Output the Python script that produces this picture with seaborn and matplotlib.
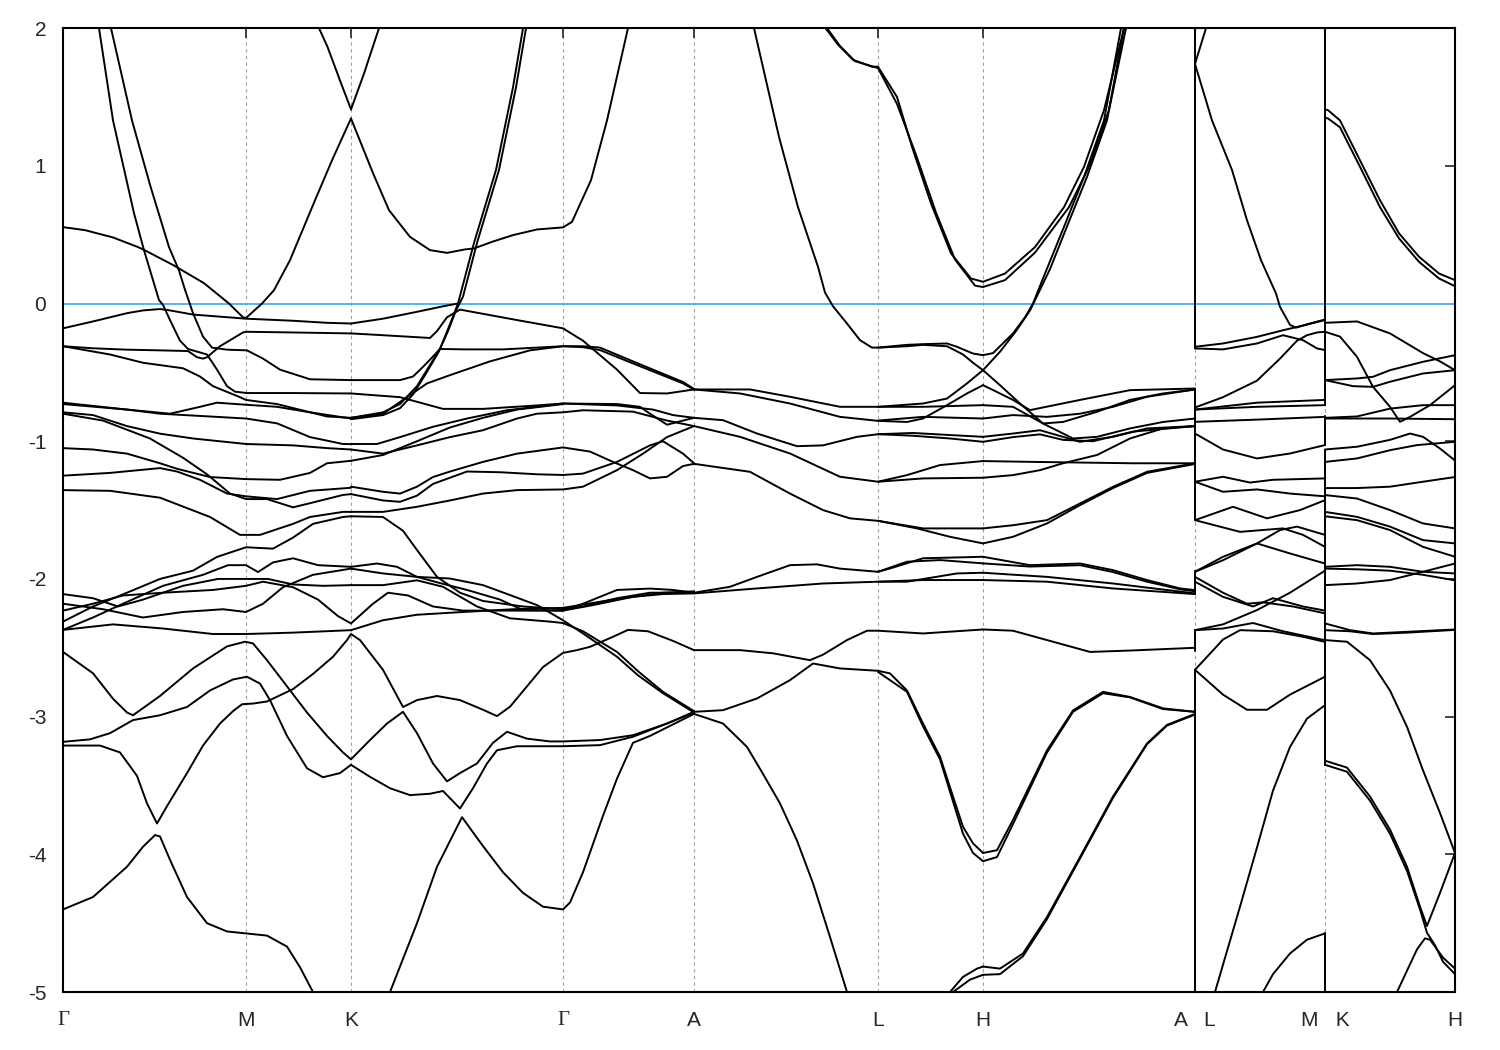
import pandas as pd
import seaborn as sns
import matplotlib.pyplot as plt

# high-symmetry points along the k-path
kpoints = [0.0, 1.83, 2.88, 5.00, 6.31, 8.15, 9.20, 11.32, 12.62, 13.92]
klabels = ["Γ", "M", "K", "Γ", "A", "L", "H", "A   L", "M   K", "H"]

# bands, (k, E) pairs, one list per path piece
gamma_m_k = [
    [(0.36, 2.0), (0.50, 1.33), (0.71, 0.656), (0.81, 0.387), (0.96, 0.025), (1.0, -0.01), (1.07, -0.12), (1.17, -0.27),
     (1.25, -0.33), (1.44, -0.37), (1.54, -0.48), (1.64, -0.60), (1.72, -0.64), (1.84, -0.65), (2.30, -0.65), (2.88, -0.653)],
    [(0.48, 2.0), (0.69, 1.33), (0.875, 0.85), (1.06, 0.41), (1.16, 0.24), (1.22, 0.10), (1.30, -0.07), (1.40, -0.24),
     (1.49, -0.32), (1.64, -0.335), (1.84, -0.34), (2.0, -0.40), (2.17, -0.48), (2.47, -0.55), (2.88, -0.556)],
    [(0, 0.555), (0.22, 0.533), (0.50, 0.48), (0.75, 0.41), (0.81, 0.39), (1.10, 0.28), (1.41, 0.148), (1.66, 0.0),
     (1.80, -0.10), (1.83, -0.105), (1.99, 0.0), (2.11, 0.097), (2.27, 0.315), (2.52, 0.75), (2.69, 1.04), (2.88, 1.344)],
    [(2.56, 2.0), (2.645, 1.864), (2.77, 1.62), (2.88, 1.41)],
    [(0, -0.18), (0.30, -0.13), (0.64, -0.07), (0.80, -0.05), (0.97, -0.04), (1.07, -0.05), (1.30, -0.08), (1.83, -0.11),
     (2.30, -0.125), (2.64, -0.14), (2.88, -0.145)],
    [(0, -0.31), (0.30, -0.325), (0.64, -0.335), (0.97, -0.34), (1.25, -0.345), (1.34, -0.39), (1.40, -0.40), (1.44, -0.39),
     (1.57, -0.31), (1.80, -0.21), (1.83, -0.205), (2.3, -0.21), (2.88, -0.217)],
    [(0, -0.31), (0.47, -0.37), (0.80, -0.43), (1.20, -0.47), (1.37, -0.53), (1.50, -0.60), (1.77, -0.68), (1.83, -0.70),
     (2.14, -0.73), (2.64, -0.82), (2.88, -0.83)],
    [(0, -0.72), (0.64, -0.77), (1.07, -0.80), (1.37, -0.75), (1.54, -0.72), (1.83, -0.735), (2.14, -0.75), (2.47, -0.79), (2.88, -0.835)],
    [(0, -0.73), (0.64, -0.77), (0.97, -0.80), (1.83, -0.835), (2.14, -0.87), (2.47, -0.97), (2.80, -1.02), (2.88, -1.021)],
    [(0, -0.79), (0.30, -0.81), (0.64, -0.89), (0.97, -0.945), (1.30, -0.98), (1.83, -1.02), (2.30, -1.03), (2.64, -1.05), (2.88, -1.06)],
    [(0, -0.80), (0.40, -0.85), (0.87, -0.98), (1.20, -1.12), (1.44, -1.24), (1.67, -1.38), (1.83, -1.42), (2.04, -1.42),
     (2.30, -1.48), (2.47, -1.45), (2.80, -1.39), (2.88, -1.384)],
    [(0, -1.05), (0.30, -1.06), (0.64, -1.09), (0.97, -1.16), (1.14, -1.20), (1.47, -1.26), (1.83, -1.275), (2.17, -1.28),
     (2.47, -1.23), (2.64, -1.16), (2.88, -1.142)],
    [(0, -1.25), (0.47, -1.23), (0.97, -1.195), (1.14, -1.22), (1.37, -1.28), (1.64, -1.38), (1.83, -1.40), (2.14, -1.42),
     (2.47, -1.36), (2.88, -1.338)],
    [(0, -1.355), (0.47, -1.36), (0.97, -1.41), (1.47, -1.55), (1.77, -1.68), (1.97, -1.68), (2.30, -1.60), (2.47, -1.55),
     (2.80, -1.513), (2.88, -1.513)],
    [(0, -2.31), (0.30, -2.20), (0.64, -2.10), (0.97, -2.0), (1.30, -1.94), (1.54, -1.84), (1.83, -1.77), (2.10, -1.78),
     (2.30, -1.70), (2.50, -1.60), (2.80, -1.55), (2.88, -1.545)],
    [(0, -2.37), (0.30, -2.28), (0.60, -2.18), (1.0, -2.05), (1.4, -1.97), (1.65, -1.90), (1.83, -1.90), (1.95, -1.95),
     (2.10, -1.88), (2.30, -1.85), (2.55, -1.90), (2.88, -1.912)],
    [(0, -2.11), (0.30, -2.14), (0.55, -2.20), (0.80, -2.15), (1.20, -2.05), (1.55, -2.0), (1.83, -2.0), (2.05, -2.0),
     (2.30, -2.04), (2.60, -2.05), (2.88, -2.045)],
    [(0, -2.18), (0.40, -2.22), (0.80, -2.28), (1.2, -2.24), (1.6, -2.22), (1.83, -2.24), (2.0, -2.18), (2.2, -2.06),
     (2.5, -1.97), (2.88, -1.925)],
    [(0, -2.23), (0.30, -2.18), (0.60, -2.12), (1.0, -2.10), (1.5, -2.08), (1.83, -2.05), (2.0, -2.02), (2.3, -2.06),
     (2.55, -2.15), (2.75, -2.27), (2.88, -2.323)],
    [(0, -2.37), (0.5, -2.33), (1.0, -2.36), (1.5, -2.40), (1.83, -2.40), (2.3, -2.39), (2.88, -2.372)],
    [(0, -2.53), (0.30, -2.685), (0.50, -2.87), (0.64, -2.97), (0.70, -2.99), (0.97, -2.85), (1.30, -2.65), (1.64, -2.49),
     (1.82, -2.456), (1.90, -2.468), (2.04, -2.59), (2.24, -2.78), (2.44, -2.97), (2.64, -3.14), (2.80, -3.26), (2.88, -3.31)],
    [(0, -3.183), (0.27, -3.165), (0.47, -3.12), (0.70, -3.025), (0.97, -2.99), (1.24, -2.93), (1.47, -2.81), (1.70, -2.73),
     (1.84, -2.71), (1.97, -2.76), (2.07, -2.88), (2.24, -3.14), (2.44, -3.375), (2.60, -3.44), (2.77, -3.41), (2.88, -3.35)],
    [(0, -4.40), (0.30, -4.31), (0.64, -4.09), (0.80, -3.945), (0.92, -3.86), (0.97, -3.87), (1.07, -4.04), (1.24, -4.31),
     (1.44, -4.50), (1.64, -4.56), (1.84, -4.575), (2.04, -4.59), (2.24, -4.67), (2.37, -4.82), (2.50, -5.0)],
]

# K -> Gamma -> A (curves that run on through Gamma)
k_gamma_a = [
    [(2.88, 1.344), (3.10, 0.947), (3.26, 0.678), (3.47, 0.484), (3.67, 0.388), (3.84, 0.368), (4.02, 0.393), (4.11, 0.40),
     (4.29, 0.448), (4.50, 0.497), (4.74, 0.538), (5.0, 0.553), (5.09, 0.593), (5.28, 0.896), (5.44, 1.33), (5.65, 2.0)],
    [(2.88, 1.41), (3.01, 1.67), (3.16, 2.0)],
    [(2.88, -0.83), (3.20, -0.79), (3.37, -0.73), (3.54, -0.60), (3.65, -0.47), (3.77, -0.33), (3.87, -0.15), (3.95, 0.0),
     (4.11, 0.44), (4.33, 0.97), (4.50, 1.57), (4.60, 2.0)],
    [(2.88, -0.84), (3.20, -0.81), (3.37, -0.76), (3.50, -0.66), (3.62, -0.52), (3.75, -0.36), (3.85, -0.20), (3.93, -0.05),
     (4.0, 0.05), (4.14, 0.44), (4.36, 0.97), (4.53, 1.57), (4.63, 2.0)],
    [(2.88, -0.83), (3.20, -0.80), (3.44, -0.68), (3.64, -0.58), (3.87, -0.52), (4.27, -0.42), (4.67, -0.34), (5.0, -0.31),
     (5.2, -0.317), (5.37, -0.338), (5.70, -0.435), (6.20, -0.58), (6.31, -0.624)],
    [(3.77, -0.33), (4.04, -0.333), (4.40, -0.333), (4.74, -0.32), (5.0, -0.31), (5.2, -0.31), (5.37, -0.32), (5.70, -0.42),
     (6.20, -0.57), (6.31, -0.62)],
    [(2.88, -0.145), (3.20, -0.11), (3.54, -0.06), (3.80, -0.02), (3.95, 0.0)],
    [(2.88, -0.217), (3.20, -0.23), (3.67, -0.25), (3.74, -0.20), (3.84, -0.10), (3.97, -0.044), (4.54, -0.12), (5.0, -0.18),
     (5.2, -0.27), (5.54, -0.48), (5.77, -0.65), (6.04, -0.653), (6.31, -0.624)],
    [(2.88, -0.556), (3.37, -0.556), (3.5, -0.53), (3.6, -0.46), (3.68, -0.40), (3.77, -0.33)],
    [(2.88, -0.653), (3.37, -0.68), (3.80, -0.765), (4.20, -0.765), (4.74, -0.74), (5.0, -0.726), (5.54, -0.73), (5.77, -0.75),
     (5.87, -0.80), (6.04, -0.88), (6.20, -0.85), (6.31, -0.83)],
    [(2.88, -1.02), (3.14, -1.02), (3.37, -0.97), (3.70, -0.895), (4.04, -0.835), (4.44, -0.775), (4.74, -0.75), (5.0, -0.726),
     (5.54, -0.74), (5.9, -0.77), (6.1, -0.81), (6.31, -0.83)],
    [(2.88, -1.06), (3.20, -1.09), (3.54, -1.03), (3.87, -0.97), (4.20, -0.92), (4.54, -0.835), (4.74, -0.80), (5.0, -0.79),
     (5.2, -0.775), (5.70, -0.785), (6.04, -0.85), (6.31, -0.89)],
    [(2.88, -1.142), (3.20, -1.10), (3.54, -1.0), (3.87, -0.90), (4.20, -0.83), (4.54, -0.77), (5.0, -0.73)],
    [(2.88, -1.33), (3.20, -1.367), (3.37, -1.38), (3.54, -1.33), (3.70, -1.26), (3.87, -1.22), (4.20, -1.15), (4.54, -1.09),
     (5.0, -1.045), (5.27, -1.075), (5.50, -1.15), (5.70, -1.21), (5.87, -1.27), (6.04, -1.258), (6.20, -1.18), (6.31, -1.164)],
    [(2.88, -1.384), (3.20, -1.43), (3.37, -1.44), (3.54, -1.395), (3.70, -1.31), (4.04, -1.22), (4.37, -1.225), (4.74, -1.24),
     (5.0, -1.245), (5.2, -1.235), (5.54, -1.15), (5.87, -1.03), (6.0, -1.0), (6.2, -1.09), (6.31, -1.16)],
    [(2.88, -1.513), (3.20, -1.513), (3.54, -1.476), (3.87, -1.43), (4.20, -1.38), (4.54, -1.355), (5.0, -1.35), (5.2, -1.33),
     (5.54, -1.21), (5.80, -1.09), (6.04, -0.97), (6.31, -0.89)],
    [(2.88, -1.545), (3.20, -1.55), (3.40, -1.65), (3.54, -1.79), (3.74, -1.985), (3.97, -2.10), (4.20, -2.16), (4.60, -2.20),
     (5.0, -2.22), (5.2, -2.20), (5.54, -2.14), (5.87, -2.10), (6.31, -2.10)],
    [(2.88, -1.912), (3.14, -1.888), (3.34, -1.912), (3.54, -1.985), (3.77, -2.03), (4.04, -2.08), (4.37, -2.15), (4.60, -2.226),
     (5.0, -2.23), (5.2, -2.18), (5.54, -2.08), (5.87, -2.07), (6.1, -2.08), (6.31, -2.10)],
    [(2.88, -1.925), (3.20, -1.96), (3.54, -1.985), (3.87, -1.997), (4.20, -2.045), (4.47, -2.117), (4.74, -2.19), (5.0, -2.30),
     (5.20, -2.396), (5.54, -2.565), (5.75, -2.70), (6.0, -2.83), (6.31, -2.97)],
    [(2.88, -2.045), (3.20, -2.045), (3.54, -2.01), (3.80, -2.057), (4.14, -2.2), (4.47, -2.286), (4.87, -2.31), (5.0, -2.32),
     (5.20, -2.38), (5.54, -2.53), (5.75, -2.67), (6.0, -2.82), (6.31, -2.96)],
    [(2.88, -2.323), (3.10, -2.18), (3.25, -2.10), (3.45, -2.12), (3.70, -2.20), (4.0, -2.23), (4.4, -2.23), (5.0, -2.23),
     (5.3, -2.19), (5.7, -2.13), (6.0, -2.11), (6.31, -2.105)],
    [(2.88, -2.372), (3.20, -2.30), (3.54, -2.26), (4.0, -2.24), (4.5, -2.22), (5.0, -2.21), (5.5, -2.15), (6.0, -2.10), (6.31, -2.09)],
    [(0, -3.21), (0.37, -3.21), (0.57, -3.26), (0.74, -3.43), (0.84, -3.63), (0.94, -3.776), (1.04, -3.65), (1.24, -3.41),
     (1.40, -3.21), (1.57, -3.05), (1.70, -2.96), (1.79, -2.91), (1.90, -2.905), (2.04, -2.89), (2.30, -2.80), (2.50, -2.69),
     (2.70, -2.565), (2.84, -2.444), (2.88, -2.40), (2.97, -2.444), (3.20, -2.66), (3.40, -2.93), (3.54, -2.88), (3.74, -2.85),
     (3.97, -2.88), (4.20, -2.95), (4.34, -2.996), (4.47, -2.928), (4.64, -2.78), (4.80, -2.64), (5.0, -2.537), (5.14, -2.517),
     (5.27, -2.493), (5.50, -2.42), (5.65, -2.37), (5.85, -2.38), (6.10, -2.45), (6.31, -2.517)],
    [(2.88, -3.31), (3.07, -3.17), (3.24, -3.05), (3.40, -2.965), (3.54, -3.12), (3.70, -3.34), (3.84, -3.47), (3.97, -3.41),
     (4.14, -3.34), (4.30, -3.19), (4.44, -3.11), (4.64, -3.16), (4.87, -3.18), (5.0, -3.18), (5.37, -3.17), (5.70, -3.135),
     (6.04, -3.05), (6.31, -2.965)],
    [(2.88, -3.35), (3.07, -3.437), (3.27, -3.52), (3.47, -3.57), (3.67, -3.56), (3.80, -3.54), (3.97, -3.667), (4.10, -3.52),
     (4.24, -3.34), (4.34, -3.244), (4.54, -3.215), (5.0, -3.215), (5.37, -3.207), (5.70, -3.146), (6.04, -3.05), (6.31, -2.97)],
    [(3.27, -5.0), (3.54, -4.50), (3.74, -4.09), (3.99, -3.73), (4.20, -3.94), (4.40, -4.13), (4.60, -4.28), (4.80, -4.38),
     (5.0, -4.40), (5.07, -4.35), (5.20, -4.13), (5.40, -3.72), (5.54, -3.45), (5.70, -3.19), (5.87, -3.14), (6.20, -3.02), (6.31, -2.98)],
]

# A -> L -> H
a_l_h = [
    [(6.91, 2.0), (7.16, 1.21), (7.35, 0.70), (7.55, 0.267), (7.62, 0.08), (7.70, -0.02), (7.84, -0.145), (7.97, -0.266),
     (8.09, -0.32), (8.15, -0.32), (8.44, -0.30), (8.60, -0.295), (8.84, -0.29), (8.94, -0.314), (9.10, -0.363), (9.20, -0.375)],
    [(8.15, -0.32), (8.44, -0.31), (8.60, -0.30), (8.84, -0.31), (9.0, -0.37), (9.10, -0.43), (9.20, -0.484)],
    [(7.625, 2.0), (7.75, 1.88), (7.90, 1.77), (8.09, 1.72), (8.15, 1.72), (8.34, 1.50), (8.49, 1.138), (8.68, 0.727),
     (8.88, 0.364), (9.08, 0.182), (9.20, 0.158), (9.42, 0.218), (9.72, 0.41), (10.01, 0.70), (10.21, 0.993), (10.41, 1.404), (10.61, 2.0)],
    [(7.64, 2.0), (7.77, 1.87), (7.92, 1.76), (8.15, 1.71), (8.34, 1.45), (8.53, 1.08), (8.73, 0.66), (8.92, 0.32), (9.12, 0.13),
     (9.20, 0.12), (9.42, 0.17), (9.72, 0.37), (10.06, 0.70), (10.26, 0.993), (10.46, 1.404), (10.63, 2.0)],
    [(6.31, -0.624), (6.87, -0.624), (7.27, -0.677), (7.77, -0.75), (8.15, -0.75), (8.60, -0.726), (8.84, -0.69), (9.04, -0.58), (9.20, -0.484)],
    [(6.31, -0.624), (6.77, -0.653), (7.27, -0.726), (7.77, -0.823), (8.15, -0.852), (8.44, -0.86), (8.60, -0.835), (8.84, -0.738),
     (9.04, -0.653), (9.20, -0.593)],
    [(8.15, -0.75), (8.60, -0.75), (9.20, -0.738)],
    [(8.15, -0.85), (8.60, -0.823), (9.20, -0.835)],
    [(6.31, -0.83), (6.60, -0.847), (6.94, -0.944), (7.34, -1.036), (7.60, -1.03), (7.94, -0.968), (8.15, -0.949), (8.50, -0.94),
     (8.87, -0.955), (9.20, -0.968)],
    [(8.15, -0.949), (8.5, -0.96), (8.87, -0.98), (9.20, -1.004)],
    [(6.31, -0.89), (6.77, -0.968), (7.27, -1.089), (7.77, -1.258), (8.15, -1.294), (8.44, -1.246), (8.77, -1.173), (9.20, -1.144)],
    [(8.15, -1.294), (8.60, -1.27), (9.20, -1.265)],
    [(6.31, -1.164), (6.87, -1.222), (7.27, -1.38), (7.60, -1.50), (7.87, -1.56), (8.15, -1.578), (8.54, -1.633), (8.87, -1.694), (9.20, -1.742)],
    [(8.15, -1.578), (8.60, -1.633), (9.20, -1.633)],
    [(6.31, -2.10), (6.67, -2.057), (6.94, -1.985), (7.27, -1.90), (7.54, -1.894), (7.77, -1.925), (8.15, -1.948), (8.27, -1.924),
     (8.60, -1.85), (9.20, -1.839)],
    [(6.31, -2.105), (6.94, -2.069), (7.60, -2.033), (8.15, -2.02), (8.44, -2.02), (8.94, -1.96), (9.20, -1.955)],
    [(8.15, -1.948), (8.44, -1.875), (8.77, -1.863), (9.20, -1.887)],
    [(8.15, -2.02), (8.60, -2.008), (9.20, -2.008)],
    [(6.31, -2.517), (6.77, -2.517), (7.10, -2.54), (7.47, -2.59), (7.60, -2.55), (7.84, -2.444), (8.04, -2.376), (8.15, -2.376),
     (8.60, -2.396), (9.20, -2.367)],
    [(6.31, -2.965), (6.60, -2.953), (6.94, -2.868), (7.27, -2.735), (7.50, -2.614), (7.77, -2.65), (8.15, -2.667), (8.27, -2.686),
     (8.44, -2.81), (8.60, -3.05), (8.77, -3.29), (8.90, -3.58), (9.0, -3.80), (9.10, -3.92), (9.20, -3.99)],
    [(8.15, -2.675), (8.44, -2.82), (8.60, -3.07), (8.77, -3.31), (9.0, -3.85), (9.10, -3.99), (9.20, -4.05)],
    [(6.31, -2.98), (6.60, -3.05), (6.84, -3.22), (7.0, -3.416), (7.17, -3.63), (7.34, -3.90), (7.50, -4.21), (7.67, -4.60), (7.84, -5.0)],
    [(8.87, -5.0), (9.0, -4.89), (9.14, -4.83), (9.20, -4.815)],
    [(8.90, -5.0), (9.07, -4.91), (9.20, -4.875)],
]

# H -> A
h_a = [
    [(9.20, -0.375), (9.30, -0.36), (9.50, -0.217), (9.62, -0.10), (9.70, 0.0), (9.82, 0.218), (10.01, 0.557), (10.21, 0.92),
     (10.41, 1.33), (10.58, 2.0)],
    [(9.20, -0.484), (9.37, -0.35), (9.53, -0.20), (9.67, -0.05), (9.77, 0.10), (9.87, 0.25), (10.04, 0.56), (10.24, 0.92),
     (10.44, 1.33), (10.61, 2.0)],
    [(9.20, -0.593), (9.30, -0.628), (9.50, -0.70), (9.67, -0.774), (10.17, -0.70), (10.67, -0.629), (11.32, -0.617)],
    [(9.20, -0.484), (9.37, -0.593), (9.57, -0.726), (9.80, -0.871), (10.0, -0.86), (10.34, -0.786), (10.67, -0.70), (11.0, -0.653),
     (11.32, -0.624)],
    [(9.20, -0.738), (9.50, -0.75), (9.80, -0.871), (10.10, -0.98), (10.34, -0.968), (10.67, -0.907), (11.0, -0.86), (11.32, -0.835)],
    [(9.20, -0.835), (9.50, -0.81), (9.84, -0.823), (10.17, -0.80), (10.50, -0.75), (10.84, -0.677), (11.32, -0.624)],
    [(9.20, -0.968), (9.50, -0.944), (9.77, -0.92), (10.0, -0.968), (10.17, -1.004), (10.50, -0.968), (10.84, -0.907), (11.32, -0.89)],
    [(9.20, -1.004), (9.50, -0.97), (9.77, -0.95), (10.0, -0.99), (10.30, -1.0), (10.70, -0.93), (11.32, -0.89)],
    [(9.20, -1.144), (9.70, -1.15), (10.2, -1.155), (10.7, -1.16), (11.32, -1.16)],
    [(9.20, -1.265), (9.50, -1.246), (9.77, -1.21), (10.0, -1.16), (10.34, -1.10), (10.67, -0.98), (11.0, -0.907), (11.32, -0.89)],
    [(9.20, -1.633), (9.50, -1.61), (9.84, -1.573), (10.17, -1.452), (10.50, -1.331), (10.84, -1.222), (11.32, -1.16)],
    [(9.20, -1.742), (9.50, -1.694), (9.84, -1.597), (10.17, -1.464), (10.50, -1.34), (10.84, -1.23), (11.32, -1.165)],
    [(9.20, -1.839), (9.67, -1.90), (10.17, -1.888), (10.50, -1.936), (10.84, -2.008), (11.17, -2.069), (11.32, -2.081)],
    [(9.20, -1.887), (9.67, -1.91), (10.17, -1.90), (10.50, -1.95), (10.84, -2.02), (11.17, -2.075), (11.32, -2.09)],
    [(9.20, -1.955), (9.84, -1.985), (10.50, -2.033), (11.32, -2.105)],
    [(9.20, -2.008), (9.84, -2.02), (10.50, -2.069), (11.32, -2.11)],
    [(9.20, -2.367), (9.50, -2.376), (9.84, -2.444), (10.27, -2.53), (10.67, -2.52), (11.32, -2.50)],
    [(9.20, -3.99), (9.34, -3.97), (9.50, -3.75), (9.84, -3.245), (10.10, -2.955), (10.40, -2.82), (10.67, -2.857), (11.0, -2.94), (11.32, -2.965)],
    [(9.20, -4.05), (9.34, -4.02), (9.50, -3.78), (9.84, -3.26), (10.10, -2.965), (10.40, -2.83), (10.67, -2.86), (11.0, -2.945), (11.32, -2.965)],
    [(9.20, -4.815), (9.37, -4.83), (9.60, -4.72), (9.84, -4.455), (10.17, -4.02), (10.50, -3.58), (10.84, -3.195), (11.04, -3.06), (11.32, -2.98)],
    [(9.20, -4.875), (9.37, -4.87), (9.60, -4.74), (9.84, -4.47), (10.17, -4.03), (10.50, -3.59), (10.84, -3.20), (11.04, -3.065), (11.32, -2.985)],
]

# L -> M
l_m = [
    [(11.32, 1.74), (11.43, 2.0)],
    [(11.32, 1.74), (11.49, 1.33), (11.69, 0.97), (11.84, 0.605), (11.98, 0.315), (12.13, 0.073), (12.17, -0.024), (12.27, -0.155),
     (12.33, -0.175), (12.47, -0.145), (12.62, -0.116)],
    [(11.32, -0.314), (11.60, -0.29), (11.94, -0.242), (12.20, -0.194), (12.37, -0.165), (12.62, -0.12)],
    [(11.32, -0.326), (11.60, -0.333), (11.94, -0.29), (12.20, -0.23), (12.40, -0.266), (12.54, -0.326), (12.62, -0.338)],
    [(11.32, -0.755), (11.60, -0.68), (11.94, -0.56), (12.17, -0.40), (12.34, -0.27), (12.44, -0.23), (12.54, -0.21), (12.62, -0.205)],
    [(11.32, -0.77), (11.94, -0.72), (12.62, -0.70)],
    [(11.32, -0.77), (11.94, -0.75), (12.62, -0.738)],
    [(11.32, -0.859), (11.94, -0.843), (12.62, -0.823)],
    [(11.32, -0.944), (11.60, -1.06), (11.94, -1.125), (12.27, -1.089), (12.62, -1.028)],
    [(11.32, -1.294), (11.60, -1.258), (11.87, -1.30), (12.10, -1.28), (12.62, -1.27)],
    [(11.32, -1.294), (11.60, -1.367), (11.94, -1.35), (12.27, -1.38), (12.62, -1.40)],
    [(11.32, -1.573), (11.70, -1.476), (12.04, -1.56), (12.37, -1.50), (12.62, -1.428)],
    [(11.32, -1.573), (11.77, -1.658), (12.20, -1.633), (12.40, -1.68), (12.62, -1.767)],
    [(11.32, -1.948), (11.60, -1.839), (11.94, -1.742), (12.17, -1.645), (12.34, -1.62), (12.62, -1.68)],
    [(11.32, -1.948), (11.60, -1.864), (11.94, -1.742), (12.27, -1.815), (12.62, -1.888)],
    [(11.32, -1.985), (11.60, -2.10), (11.84, -2.18), (12.0, -2.17), (12.30, -2.20), (12.62, -2.25)],
    [(11.32, -2.02), (11.60, -2.13), (11.90, -2.20), (12.10, -2.14), (12.40, -2.20), (12.62, -2.23)],
    [(11.32, -2.372), (11.60, -2.33), (11.94, -2.226), (12.27, -2.10), (12.62, -1.94)],
    [(11.32, -2.372), (11.60, -2.36), (11.90, -2.32), (12.2, -2.38), (12.62, -2.445)],
    [(11.32, -2.66), (11.44, -2.566), (11.60, -2.44), (11.77, -2.372), (12.10, -2.38), (12.40, -2.42), (12.62, -2.457)],
    [(11.32, -2.66), (11.60, -2.84), (11.84, -2.95), (12.04, -2.95), (12.27, -2.84), (12.62, -2.71)],
    [(11.52, -5.0), (11.77, -4.38), (11.94, -3.95), (12.10, -3.537), (12.27, -3.22), (12.44, -3.014), (12.62, -2.917)],
    [(12.0, -5.0), (12.10, -4.87), (12.27, -4.72), (12.44, -4.62), (12.62, -4.574)],
]

# K -> H
k_h = [
    [(12.62, 1.41), (12.65, 1.404), (12.77, 1.33), (12.97, 1.04), (13.17, 0.75), (13.36, 0.51), (13.56, 0.34), (13.76, 0.218), (13.92, 0.17)],
    [(12.62, 1.35), (12.65, 1.344), (12.77, 1.28), (12.97, 0.993), (13.17, 0.70), (13.36, 0.473), (13.56, 0.303), (13.76, 0.182), (13.92, 0.126)],
    [(12.62, -0.14), (12.94, -0.13), (13.27, -0.217), (13.60, -0.36), (13.77, -0.42), (13.92, -0.484)],
    [(12.62, -0.205), (12.77, -0.24), (12.94, -0.387), (13.10, -0.605), (13.27, -0.75), (13.37, -0.859), (13.47, -0.823),
     (13.67, -0.738), (13.92, -0.593)],
    [(12.62, -0.556), (12.94, -0.544), (13.10, -0.532), (13.27, -0.484), (13.60, -0.423), (13.92, -0.375)],
    [(12.62, -0.556), (12.9, -0.60), (13.10, -0.605), (13.27, -0.568), (13.60, -0.508), (13.92, -0.484)],
    [(12.62, -0.83), (12.94, -0.82), (13.27, -0.763), (13.60, -0.738), (13.92, -0.738)],
    [(12.62, -0.835), (13.27, -0.835), (13.92, -0.84)],
    [(12.62, -1.06), (12.94, -1.04), (13.27, -0.99), (13.47, -0.944), (13.60, -0.968), (13.77, -1.053), (13.92, -1.14)],
    [(12.62, -1.15), (12.94, -1.125), (13.27, -1.065), (13.54, -1.028), (13.92, -1.004)],
    [(12.62, -1.34), (12.94, -1.34), (13.27, -1.33), (13.60, -1.294), (13.92, -1.26)],
    [(12.62, -1.391), (12.94, -1.416), (13.27, -1.50), (13.60, -1.597), (13.92, -1.633)],
    [(12.62, -1.513), (12.94, -1.549), (13.27, -1.62), (13.60, -1.718), (13.92, -1.742)],
    [(12.62, -1.545), (12.94, -1.573), (13.27, -1.645), (13.60, -1.767), (13.92, -1.839)],
    [(12.62, -1.912), (12.94, -1.90), (13.27, -1.912), (13.60, -1.948), (13.92, -1.96)],
    [(12.62, -1.925), (12.94, -1.93), (13.27, -1.94), (13.60, -1.97), (13.92, -2.01)],
    [(12.62, -2.045), (12.94, -2.033), (13.27, -2.008), (13.60, -1.948), (13.92, -1.888)],
    [(12.62, -2.323), (12.87, -2.372), (13.10, -2.396), (13.44, -2.384), (13.92, -2.367)],
    [(12.62, -2.372), (12.87, -2.38), (13.10, -2.40), (13.44, -2.39), (13.92, -2.37)],
    [(12.62, -2.444), (12.84, -2.456), (13.07, -2.59), (13.27, -2.81), (13.44, -3.074), (13.60, -3.39), (13.77, -3.70), (13.92, -3.99)],
    [(12.62, -3.32), (12.84, -3.37), (13.07, -3.58), (13.27, -3.82), (13.44, -4.09), (13.57, -4.38), (13.64, -4.52), (13.77, -4.28), (13.92, -3.99)],
    [(12.62, -3.35), (12.84, -3.40), (13.07, -3.61), (13.27, -3.85), (13.44, -4.12), (13.57, -4.40), (13.64, -4.57), (13.72, -4.66),
     (13.80, -4.78), (13.92, -4.87)],
    [(13.34, -5.0), (13.54, -4.69), (13.62, -4.61), (13.67, -4.62), (13.80, -4.75), (13.92, -4.83)],
]

# band jumps at the path breaks A|L and M|K (energy from, energy to)
jump_a_l = [(2.0, -0.32), (-0.617, -1.573), (-1.94, -2.11), (-2.37, -2.52), (-2.66, -5.0)]
jump_m_k = [(2.0, -0.74), (-0.82, -1.03), (-1.06, -1.94), (-1.91, -2.46), (-2.44, -3.35), (-4.57, -5.0)]

# long table for seaborn
rows = []
band_id = 0
for piece in [gamma_m_k, k_gamma_a, a_l_h, h_a, l_m, k_h]:
    for band in piece:
        for i, (k, e) in enumerate(band):
            rows.append({"band": band_id, "order": i, "k": k, "E": e})
        band_id += 1
for kbreak, jumps in [(kpoints[7], jump_a_l), (kpoints[8], jump_m_k)]:
    for e0, e1 in jumps:
        rows.append({"band": band_id, "order": 0, "k": kbreak, "E": e0})
        rows.append({"band": band_id, "order": 1, "k": kbreak, "E": e1})
        band_id += 1
df = pd.DataFrame(rows)

sns.set_style("white")
plt.rcParams["font.family"] = ["Liberation Sans", "DejaVu Sans"]
plt.rcParams["axes.unicode_minus"] = False

fig = plt.figure(figsize=(15, 10.5), dpi=100)
ax = fig.add_axes([0.042, 0.0552, 0.928, 0.918])

for kp in kpoints[1:-1]:
    ax.axvline(kp, color="#a0a0a0", lw=0.8, ls=(0, (3, 3)), zorder=0)
ax.axhline(0, color="#56b4e9", lw=1.4, zorder=1)

sns.lineplot(data=df, x="k", y="E", units="band", estimator=None, sort=False,
             color="black", linewidth=1.4, legend=False, ax=ax)

ax.set_xlim(kpoints[0], kpoints[-1])
ax.set_ylim(-5, 2)
ax.set_yticks(range(-5, 3))
ax.set_xticks(kpoints)
ax.set_xticklabels(klabels)
for lab, txt in zip(ax.get_xticklabels(), klabels):
    if txt == "Γ":
        lab.set_fontfamily("Liberation Serif")
        lab.set_fontsize(16)
ax.tick_params(axis="both", direction="in", length=7, width=1.2, labelsize=15,
               top=True, right=True)
ax.tick_params(axis="x", pad=14)
ax.tick_params(axis="y", pad=12)
ax.set_xlabel("")
ax.set_ylabel("")
for sp in ax.spines.values():
    sp.set_linewidth(1.5)
    sp.set_color("black")

plt.savefig("out.png", dpi=100)
